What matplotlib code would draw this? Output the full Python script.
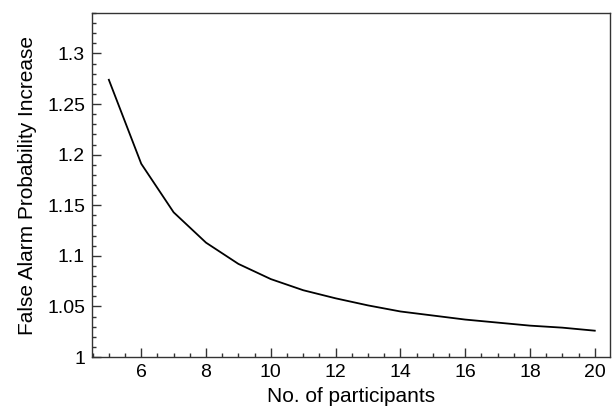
import matplotlib
matplotlib.use("Agg")
import matplotlib.pyplot as plt
from matplotlib.ticker import MultipleLocator

participants = [5, 6, 7, 8, 9, 10, 11, 12, 13, 14, 15, 16, 17, 18, 19, 20]
fa_increase = [1.274, 1.191, 1.143, 1.113, 1.092, 1.077, 1.066, 1.058,
               1.051, 1.045, 1.041, 1.037, 1.034, 1.031, 1.029, 1.026]

plt.rcParams["font.family"] = ["Liberation Sans", "DejaVu Sans"]

fig = plt.figure(figsize=(6.15, 4.11), dpi=100)
ax = fig.add_axes([92 / 615, 1 - 357 / 411, (610 - 92) / 615, (357 - 13) / 411])

ax.plot(participants, fa_increase, color="black", linewidth=1.3)

ax.set_xlim(4.48, 20.47)
ax.set_ylim(1.0, 1.34)
ax.xaxis.set_major_locator(MultipleLocator(2))
ax.xaxis.set_minor_locator(MultipleLocator(0.5))
ax.yaxis.set_major_locator(MultipleLocator(0.05))
ax.yaxis.set_minor_locator(MultipleLocator(0.01))
ax.yaxis.set_major_formatter(plt.FuncFormatter(lambda v, p: f"{v:g}"))

ax.tick_params(which="both", direction="in", top=False, right=False,
               color="#333333", labelsize=14, width=1)
ax.tick_params(which="major", length=6.5, pad=5)
ax.tick_params(which="minor", length=3)
for s in ax.spines.values():
    s.set_color("#333333")
    s.set_linewidth(1)

ax.set_xlabel("No. of participants", fontsize=15, labelpad=4)
ax.set_ylabel("False Alarm Probability Increase", fontsize=15, labelpad=7)

fig.savefig("out.png", dpi=100)
